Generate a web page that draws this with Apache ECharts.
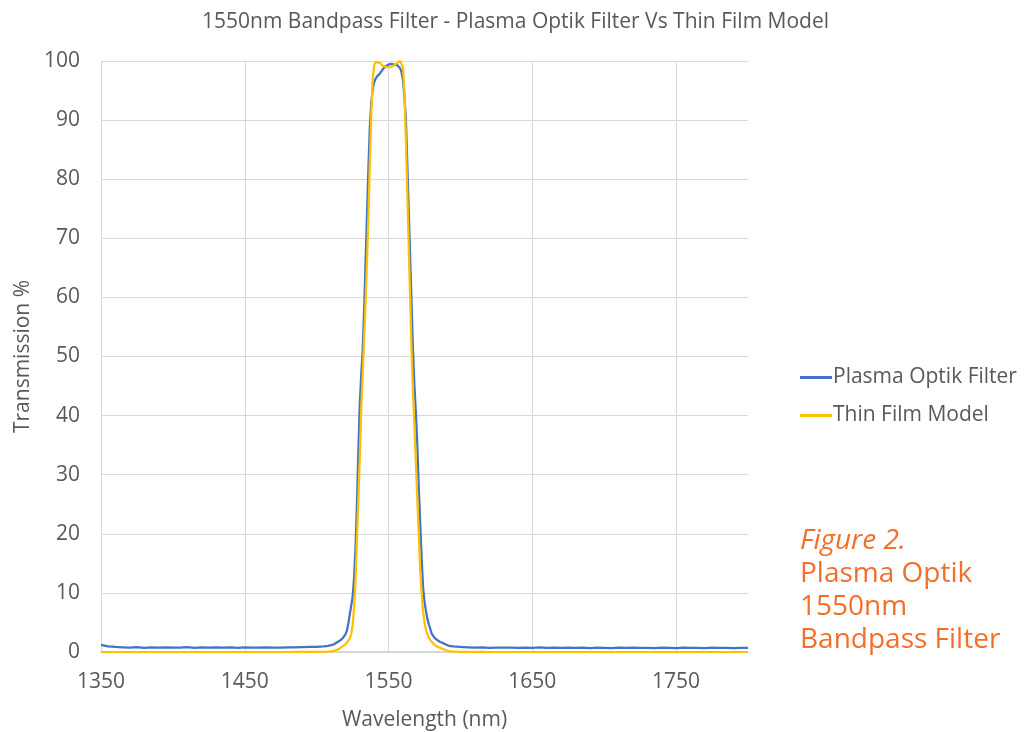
<!DOCTYPE html>
<html>
<head>
<meta charset="utf-8">
<title>1550nm Bandpass Filter</title>
<script src="https://cdn.jsdelivr.net/npm/echarts@6/dist/echarts.min.js"></script>
<style>
  html, body { margin: 0; padding: 0; background: #fff; }
  #chart { width: 1031px; height: 732px; }
</style>
</head>
<body>
<div id="chart"></div>
<script>
// wavelengths (nm), shared by both curves
var wavelengths = [
  1350, 1355, 1360, 1365, 1370, 1375, 1380, 1385, 1390, 1395, 1400, 1405, 1410, 1415, 1420,
  1425, 1430, 1435, 1440, 1445, 1450, 1455, 1460, 1465, 1470, 1475, 1480, 1485, 1490, 1495, 1500,
  1505, 1508, 1510, 1512, 1514, 1516, 1518, 1520, 1521, 1522, 1523, 1524, 1525, 1526, 1527, 1528,
  1529, 1530, 1531, 1532, 1533, 1534, 1535, 1536, 1537, 1538, 1539, 1540, 1541, 1542, 1544, 1546,
  1548, 1550, 1552, 1554, 1556, 1557, 1558, 1559, 1560, 1561, 1562, 1563, 1564, 1565, 1566, 1567,
  1568, 1569, 1570, 1571, 1572, 1573, 1574, 1575, 1576, 1577, 1578, 1579, 1580, 1582, 1584, 1586,
  1588, 1590, 1592, 1595, 1600,
  1605, 1610, 1615, 1620, 1625, 1630, 1635, 1640, 1645, 1650, 1655, 1660, 1665, 1670, 1675, 1680,
  1685, 1690, 1695, 1700, 1705, 1710, 1715, 1720, 1725, 1730, 1735, 1740, 1745, 1750, 1755, 1760,
  1765, 1770, 1775, 1780, 1785, 1790, 1795, 1800
];

// measured transmission, Plasma Optik filter (%)
var plasmaOptik = [
  1.2, 0.95, 0.85, 0.8, 0.75, 0.82, 0.7, 0.78, 0.74, 0.8, 0.72, 0.76, 0.82, 0.7, 0.77,
  0.74, 0.8, 0.73, 0.78, 0.71, 0.79, 0.75, 0.72, 0.8, 0.76, 0.74, 0.8, 0.78, 0.82, 0.85, 0.88,
  0.95, 1.05, 1.15, 1.3, 1.6, 1.9, 2.3, 3.0, 3.6, 4.8, 6.3, 7.8, 9.3, 12.5, 17.5, 25,
  34, 42, 47, 51, 58, 66, 74, 82, 89, 93, 95.3, 96.4, 97, 97.4, 97.9, 98.6,
  99.1, 99.4, 99.5, 99.4, 99.3, 99.2, 98.8, 98.1, 96.8, 94, 90.5, 83, 75, 67, 59, 51,
  45, 40.5, 35, 28, 22, 16, 11, 8.5, 7, 5.6, 4.7, 3.9, 3.1, 2.4, 2.0, 1.7,
  1.5, 1.25, 1.05, 0.95, 0.85,
  0.8, 0.74, 0.78, 0.7, 0.76, 0.72, 0.75, 0.69, 0.74, 0.71, 0.77, 0.7, 0.73, 0.68, 0.74, 0.7,
  0.72, 0.67, 0.73, 0.7, 0.66, 0.72, 0.69, 0.74, 0.68, 0.71, 0.66, 0.72, 0.7, 0.67, 0.73, 0.69,
  0.71, 0.66, 0.72, 0.68, 0.7, 0.65, 0.71, 0.69
];

// modelled transmission, thin film design (%)
var thinFilm = [
  0, 0, 0, 0, 0, 0, 0, 0, 0, 0, 0, 0, 0, 0, 0,
  0, 0, 0, 0, 0, 0, 0, 0, 0, 0, 0, 0, 0.01, 0.01, 0.01, 0.02,
  0.03, 0.06, 0.1, 0.2, 0.35, 0.6, 0.95, 1.3, 1.6, 1.9, 2.3, 3.0, 4.5, 7.5, 12, 19,
  26, 33, 41, 47, 53, 59, 66, 74, 83, 91, 97, 99.3, 99.8, 100, 99.7, 99.2,
  99.0, 98.9, 99.0, 99.3, 99.7, 99.9, 100, 99.8, 99, 95, 87, 78, 69, 60, 51, 44,
  38, 32, 26, 20, 14, 10, 7, 5, 3.8, 3.0, 2.4, 2.0, 1.7, 1.2, 0.9, 0.7,
  0.5, 0.3, 0.15, 0.08, 0.04,
  0.02, 0.01, 0.01, 0, 0, 0, 0, 0, 0, 0, 0, 0, 0, 0, 0, 0,
  0, 0, 0, 0, 0, 0, 0, 0, 0, 0, 0, 0, 0, 0, 0, 0,
  0, 0, 0, 0, 0, 0, 0, 0
];

var captionLines = ['Plasma Optik', '1550nm', 'Bandpass Filter'];

function pairs(ys) {
  return wavelengths.map(function (x, i) { return [x, ys[i]]; });
}

var textGrey = '#595959';
var orange = '#F26F2A';

var captionGraphics = [{
  type: 'text', left: 800, top: 527,
  style: { text: 'Figure 2.', fill: orange, font: 'italic 28px "Open Sans"' }
}];
captionLines.forEach(function (line, i) {
  captionGraphics.push({
    type: 'text', left: 800, top: 560 + i * 33,
    style: { text: line, fill: orange, font: '28px "Open Sans"' }
  });
});

var myChart = echarts.init(document.getElementById('chart'));
var option = {
  backgroundColor: '#fff',
  animation: false,
  textStyle: { fontFamily: '"Open Sans"' },
  title: {
    text: '1550nm Bandpass Filter - Plasma Optik Filter Vs Thin Film Model',
    left: 'center', top: 7,
    textStyle: { color: textGrey, fontSize: 21, fontWeight: 'normal' }
  },
  legend: {
    orient: 'vertical',
    left: 795, top: 362,
    itemWidth: 32, itemHeight: 3, itemGap: 17, icon: 'rect',
    textStyle: { color: textGrey, fontSize: 21, padding: [0, 0, 0, -4] },
    data: ['Plasma Optik Filter', 'Thin Film Model']
  },
  grid: { left: 101, right: 283, top: 61, bottom: 80, outerBoundsMode: 'none' },
  xAxis: {
    type: 'value', min: 1350, max: 1800, interval: 100,
    name: 'Wavelength (nm)', nameLocation: 'middle', nameGap: 58,
    nameTextStyle: { color: textGrey, fontSize: 21 },
    axisLine: { show: true, lineStyle: { color: '#d0d0d0', width: 1.5 } },
    axisTick: { show: false },
    axisLabel: {
      color: textGrey, fontSize: 21, margin: 20, showMaxLabel: false,
      formatter: function (v) { return String(v); }
    },
    splitLine: { show: true, showMaxLine: false, lineStyle: { color: '#d9d9d9', width: 1 } }
  },
  yAxis: {
    type: 'value', min: 0, max: 100, interval: 10,
    name: 'Transmission %', nameLocation: 'middle', nameGap: 67, nameRotate: 90,
    nameTextStyle: { color: textGrey, fontSize: 21 },
    axisLine: { show: false },
    axisTick: { show: false },
    axisLabel: { color: textGrey, fontSize: 21, margin: 21 },
    splitLine: { show: true, lineStyle: { color: '#d9d9d9', width: 1 } }
  },
  series: [
    {
      name: 'Plasma Optik Filter', type: 'line', data: pairs(plasmaOptik),
      showSymbol: false, symbol: 'none',
      lineStyle: { color: '#4472C4', width: 2.25 }, itemStyle: { color: '#4472C4' }
    },
    {
      name: 'Thin Film Model', type: 'line', data: pairs(thinFilm),
      showSymbol: false, symbol: 'none',
      lineStyle: { color: '#FFC000', width: 2.25 }, itemStyle: { color: '#FFC000' }
    }
  ],
  graphic: captionGraphics
};
myChart.setOption(option);
</script>
</body>
</html>
